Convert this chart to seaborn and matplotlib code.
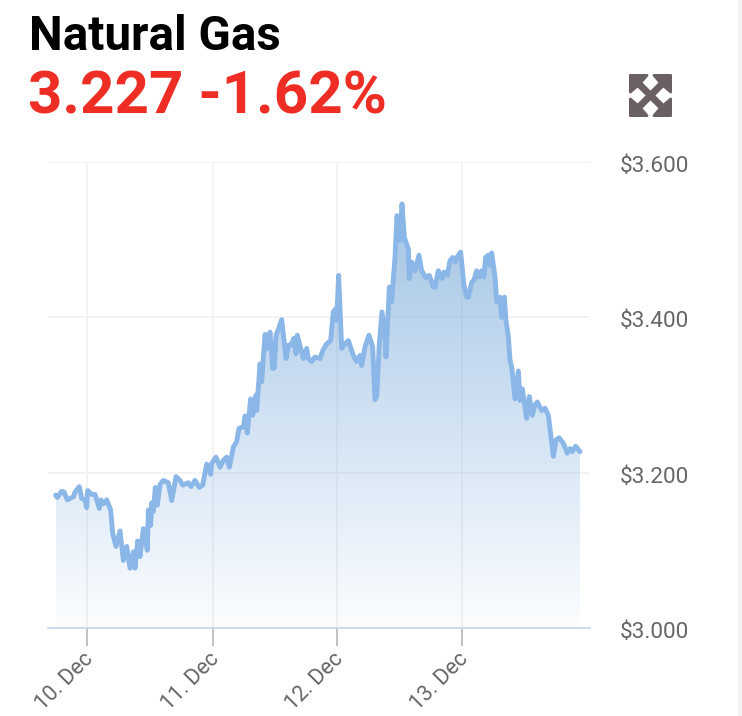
import numpy as np
import pandas as pd
import matplotlib
matplotlib.use("Agg")
import matplotlib.pyplot as plt
from matplotlib.patches import Polygon, Rectangle
from matplotlib.colors import LinearSegmentedColormap
from matplotlib.transforms import ScaledTranslation
import seaborn as sns

TITLE = "Natural Gas"
QUOTE = "3.227 -1.62%"
TICK_HOURS = [0, 24.1, 48, 72]
TICK_LABELS = ["10. Dec", "11. Dec", "12. Dec", "13. Dec"]
Y_TICKS = [3.0, 3.2, 3.4, 3.6]
Y_LABELS = ["$3.000", "$3.200", "$3.400", "$3.600"]

# hours since 10 Dec 00:00
hours = [
    -6.02,-5.70,-4.86,-4.42,-3.78,-2.62,-2.30,-1.47,-1.02,-0.38,-0.06,0.13,0.90,1.54,2.37,2.69,3.14,3.78,4.54,4.93,
    5.57,6.34,6.98,7.62,8.26,8.90,9.22,9.73,10.18,10.82,11.58,11.78,12.22,12.42,12.74,13.12,13.50,14.02,14.66,15.62,
    16.26,17.09,17.86,18.37,19.46,19.97,20.74,21.57,22.21,22.98,23.74,23.94,24.77,25.54,26.18,26.82,27.33,28.10,28.74,29.18,
    30.02,30.34,30.78,31.42,31.81,32.45,32.58,33.22,33.54,34.18,34.62,35.14,35.65,35.97,36.29,36.67,37.38,38.21,38.66,39.10,
    39.74,40.13,40.38,41.54,42.18,42.50,43.14,43.78,44.74,45.25,46.02,46.78,47.30,47.74,47.94,48.32,48.90,49.54,50.18,51.14,
    51.78,52.42,52.74,53.38,54.14,54.85,55.30,55.62,56.13,56.64,57.22,57.41,58.05,58.50,59.14,59.52,60.10,60.48,60.93,61.70,
    61.89,62.34,62.98,63.74,64.26,65.09,65.73,66.50,66.82,67.46,68.22,68.54,69.18,69.70,70.21,70.66,71.10,71.74,72.38,72.90,
    73.22,73.86,74.30,74.82,75.33,75.78,76.22,76.54,77.06,77.38,77.70,78.34,78.66,79.30,79.62,80.13,80.45,80.90,81.22,81.54,
    82.18,82.82,83.14,83.58,84.42,84.93,85.50,86.02,86.46,87.30,87.94,88.58,89.54,90.05,90.62,91.46,92.22,92.74,93.18,93.82,94.66,
]
prices = [
    3.171,3.168,3.176,3.175,3.165,3.169,3.175,3.182,3.167,3.165,3.155,3.177,3.172,3.172,3.154,3.165,3.160,3.165,3.152,3.122,
    3.105,3.125,3.087,3.105,3.077,3.098,3.077,3.112,3.092,3.128,3.100,3.152,3.132,3.161,3.150,3.181,3.158,3.185,3.190,3.187,
    3.164,3.195,3.190,3.184,3.187,3.182,3.190,3.181,3.184,3.211,3.198,3.212,3.220,3.207,3.216,3.220,3.207,3.233,3.240,3.257,
    3.259,3.273,3.251,3.295,3.274,3.300,3.280,3.340,3.317,3.378,3.360,3.381,3.334,3.335,3.377,3.383,3.397,3.347,3.364,3.364,
    3.373,3.353,3.377,3.347,3.360,3.347,3.343,3.349,3.347,3.357,3.366,3.370,3.407,3.411,3.396,3.454,3.360,3.366,3.370,3.351,
    3.343,3.351,3.338,3.362,3.377,3.362,3.294,3.298,3.366,3.407,3.375,3.349,3.439,3.420,3.478,3.531,3.499,3.546,3.503,3.488,
    3.450,3.471,3.460,3.480,3.460,3.451,3.454,3.439,3.439,3.460,3.450,3.458,3.454,3.473,3.477,3.471,3.478,3.484,3.441,3.426,
    3.426,3.445,3.448,3.460,3.452,3.460,3.452,3.477,3.480,3.467,3.483,3.452,3.420,3.426,3.400,3.426,3.396,3.375,3.345,3.336,
    3.295,3.331,3.293,3.308,3.270,3.298,3.274,3.287,3.291,3.280,3.283,3.274,3.221,3.242,3.245,3.238,3.225,3.231,3.227,3.234,3.227,
]

df = pd.DataFrame({"hours": hours, "price": prices})

W, H = 742, 716
sns.set_style("white")
plt.rcParams["font.family"] = ["Roboto", "DejaVu Sans"]

fig = plt.figure(figsize=(W / 100, H / 100), dpi=100, facecolor="white")
ax = fig.add_axes([48 / W, 1 - 628 / H, (590 - 48) / W, (628 - 162) / H])

# right-hand page strip
fig.add_artist(Rectangle((738 / W, 0), 4 / W, 1, transform=fig.transFigure,
                         facecolor="#F3F3F3", edgecolor="none"))

ax.set_axisbelow(True)
ax.grid(True, color="#F2F2F2", linewidth=1.3)

# gradient area under the line
area = ax.fill_between(df["hours"], df["price"], 3.0, facecolor="none", edgecolor="none")
cmap = LinearSegmentedColormap.from_list("gas", [(0.45, 0.65, 0.83, 0.66), (0.49, 0.68, 0.90, 0.03)])
grad = np.linspace(0, 1, 256).reshape(-1, 1)
img = ax.imshow(grad, cmap=cmap, aspect="auto", zorder=1.5, interpolation="bilinear",
                extent=[df["hours"].min(), df["hours"].max(), 3.0, df["price"].max()], origin="upper")
img.set_clip_path(area.get_paths()[0], transform=ax.transData)

sns.lineplot(data=df, x="hours", y="price", estimator=None, sort=False, ax=ax,
             color="#8AB6E8", linewidth=3.5, zorder=3, solid_joinstyle="round")

ax.set_xlim(-7.49, 96.58)
ax.set_ylim(3.0, 3.6)
ax.set_xlabel("")
ax.set_ylabel("")

for s in ["top", "left", "right"]:
    ax.spines[s].set_visible(False)
ax.spines["bottom"].set_color("#CCD6EB")
ax.spines["bottom"].set_linewidth(1.3)

ax.set_xticks(TICK_HOURS)
ax.set_xticklabels(TICK_LABELS, rotation=45, ha="right", rotation_mode="anchor",
                   color="#666666", fontsize=15.6)
ax.tick_params(axis="x", length=13, width=1.3, color="#BDBDBD", pad=1.5, bottom=True)
ax.yaxis.tick_right()
ax.set_yticks(Y_TICKS)
ax.set_yticklabels(Y_LABELS, color="#666666", fontsize=16.2)
ax.tick_params(axis="y", length=0, pad=21)

for lab in ax.get_xticklabels():
    lab.set_transform(lab.get_transform() + ScaledTranslation(-4 / 100, 0, fig.dpi_scale_trans))
for lab in ax.get_yticklabels():
    lab.set_transform(lab.get_transform() + ScaledTranslation(1 / 100, -2 / 100, fig.dpi_scale_trans))

fig.text(29 / W, 1 - 50 / H, TITLE, fontsize=34.3, fontweight="bold", color="black", va="baseline", ha="left")
fig.text(28 / W, 1 - 113 / H, QUOTE, fontsize=43.2, fontweight="bold", color="#EE2E24", va="baseline", ha="left")

# expand icon
icon = fig.add_axes([629 / W, 1 - 117 / H, 43 / W, 43 / H])
icon.set_xlim(0, 1)
icon.set_ylim(0, 1)
icon.axis("off")
c = "#6B5F66"
head = [(0.03, 0.03), (0.42, 0.03), (0.30, 0.17), (0.17, 0.30), (0.03, 0.42)]
for fx, fy in [(0, 0), (1, 0), (0, 1), (1, 1)]:
    pts = [(1 - x if fx else x, 1 - y if fy else y) for x, y in head]
    icon.add_patch(Polygon(pts, closed=True, facecolor=c, edgecolor=c, linewidth=2, joinstyle="round"))
icon.plot([0.15, 0.85], [0.15, 0.85], color=c, linewidth=5, solid_capstyle="butt")
icon.plot([0.15, 0.85], [0.85, 0.15], color=c, linewidth=5, solid_capstyle="butt")

fig.savefig("out.png", dpi=100, facecolor="white")
